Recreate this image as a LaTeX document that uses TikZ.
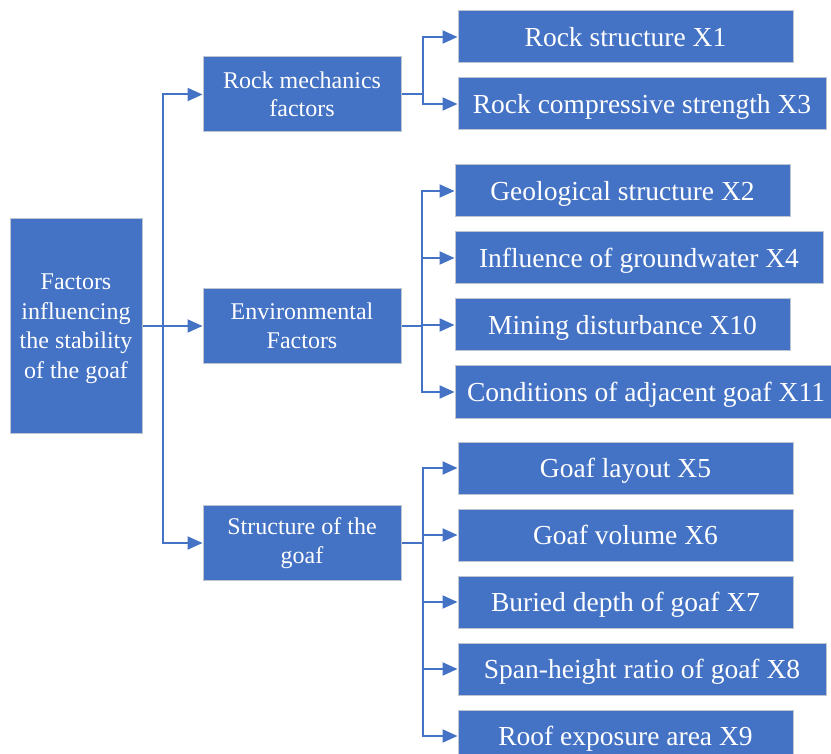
\documentclass[tikz,border=0pt]{standalone}
\usepackage{fontspec}
\setmainfont{Liberation Serif}
\newfontfamily\tnr{Liberation Serif}
\usetikzlibrary{arrows.meta}
\definecolor{boxblue}{HTML}{4472C4}
\definecolor{boxedge}{HTML}{BFC5D0}
\tikzset{
  box/.style={draw=boxedge, line width=1pt, fill=boxblue, text=white, inner sep=0pt, align=center},
  leafbox/.style={box, minimum height=52pt, text depth=0pt, font=\tnr\fontsize{27.5}{33}\selectfont},
  midbox/.style={box, minimum width=198pt, minimum height=75pt, font=\tnr\fontsize{24}{28.5}\selectfont},
  link/.style={draw=boxblue, line width=2pt},
  arr/.style={link, -{Triangle[length=15pt, width=13pt]}},
}
\begin{document}
\begin{tikzpicture}[x=1pt, y=-1pt]
\clip (0,0) rectangle (831,754);
\fill[white] (0,0) rectangle (831,754);
% main
\node[box, minimum width=132pt, minimum height=214pt, text depth=0pt, font=\tnr\fontsize{24}{29.5}\selectfont] (main) at (76,326) {Factors\\influencing\\the stability\\of the goaf};
% middle
\node[midbox] (rock) at (302,94.5) {Rock mechanics\\factors};
\node[midbox] (env) at (302,326) {Environmental\\Factors};
\node[midbox] (str) at (302,543) {Structure of the\\goaf};
% leaves
\node[leafbox, minimum width=335pt] (x1) at (625.5,37) {Rock structure X1};
\node[leafbox, minimum width=368pt] (x3) at (642,104) {Rock compressive strength X3};
\node[leafbox, minimum width=335pt] (x2) at (622.5,191) {Geological structure X2};
\node[leafbox, minimum width=368pt] (x4) at (639,258) {Influence of groundwater X4};
\node[leafbox, minimum width=335pt] (x10) at (622.5,325) {Mining disturbance X10};
\node[leafbox, minimum width=382pt] (x11) at (646,392) {Conditions of adjacent goaf X11};
\node[leafbox, minimum width=335pt] (x5) at (625.5,468) {Goaf layout X5};
\node[leafbox, minimum width=335pt] (x6) at (625.5,535) {Goaf volume X6};
\node[leafbox, minimum width=335pt] (x7) at (625.5,602) {Buried depth of goaf X7};
\node[leafbox, minimum width=368pt] (x8) at (642,669) {Span-height ratio of goaf X8};
\node[leafbox, minimum width=335pt] (x9) at (625.5,736) {Roof exposure area X9};
% connectors from main
\coordinate (j0) at (163,326);
\draw[arr] (main.east) -- (env.west);
\draw[arr] (j0) |- (rock.west);
\draw[arr] (j0) |- (str.west);
% rock branch
\coordinate (jr) at (423,94.5);
\draw[link] (rock.east) -- (jr);
\draw[arr] (jr) |- (x1.west);
\draw[arr] (jr) |- (x3.west);
% env branch
\coordinate (je) at (422,326);
\draw[link] (env.east) -- (je);
\draw[arr] (je) |- (x2.west);
\draw[arr] (je) |- (x4.west);
\draw[arr] (je) |- (x10.west);
\draw[arr] (je) |- (x11.west);
% structure branch
\coordinate (js) at (423,543);
\draw[link] (str.east) -- (js);
\draw[arr] (js) |- (x5.west);
\draw[arr] (js) |- (x6.west);
\draw[arr] (js) |- (x7.west);
\draw[arr] (js) |- (x8.west);
\draw[arr] (js) |- (x9.west);
\end{tikzpicture}
\end{document}
